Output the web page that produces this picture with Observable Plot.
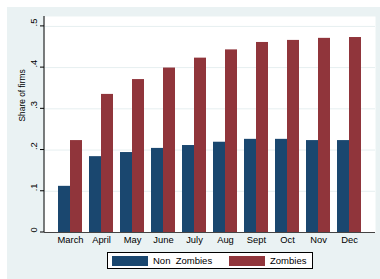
<!DOCTYPE html>
<html>
<head>
<meta charset="utf-8">
<script src="https://cdn.jsdelivr.net/npm/d3@7"></script>
<script src="https://cdn.jsdelivr.net/npm/@observablehq/plot@0.6"></script>
<style>
  html, body { margin: 0; padding: 0; background: #ffffff; }
  #wrap { position: relative; width: 380px; height: 279px; overflow: hidden; font-family: "Liberation Sans", Arial, sans-serif; }
  #bg { position: absolute; left: 7px; top: 7px; width: 373px; height: 272px; background: #eaf2f3; }
  #chart { position: absolute; left: 0; top: 0; }
  #legend { position: absolute; left: 107px; top: 252px; width: 204px; height: 15px; border: 1px solid #000; background: #fff; }
  .sw { position: absolute; top: 3px; width: 36px; height: 10px; }
  .lt { position: absolute; top: 1px; font-size: 9.5px; line-height: 13px; color: #000; white-space: pre; }
</style>
</head>
<body>
<div id="wrap">
  <div id="bg"></div>
  <div id="chart"></div>
  <div id="legend"></div>
</div>
<script>
const months = ["March", "April", "May", "June", "July", "Aug", "Sept", "Oct", "Nov", "Dec"];
const seriesNames = ["Non  Zombies", "Zombies"];
const nonZombies = [0.112, 0.184, 0.194, 0.204, 0.211, 0.219, 0.226, 0.226, 0.223, 0.223];
const zombies = [0.223, 0.335, 0.371, 0.399, 0.423, 0.443, 0.461, 0.466, 0.471, 0.473];
const yTicks = [0, 0.1, 0.2, 0.3, 0.4, 0.5];
const yTitle = "Share of firms";
const colors = ["#1a476f", "#90353b"];

const nzData = months.map((m, i) => ({month: m, value: nonZombies[i]}));
const zData = months.map((m, i) => ({month: m, value: zombies[i]}));
const fmt = d => d === 0 ? "0" : d3.format(".1f")(d).replace(/^0/, "");

const chart = Plot.plot({
  width: 380,
  height: 279,
  marginLeft: 44,
  marginRight: 5,
  marginTop: 16,
  marginBottom: 47,
  style: {background: "transparent", fontFamily: "Liberation Sans, Arial, sans-serif", fontSize: "9.4px", color: "#000"},
  x: {type: "band", domain: months, paddingInner: 0.24, paddingOuter: 0.357, label: null, tickSize: 0, tickPadding: 4},
  y: {domain: [0, 0.524], axis: null},
  marks: [
    Plot.frame({fill: "white", stroke: "none"}),
    Plot.ruleY(yTicks.slice(1), {stroke: "#e6eff0", strokeWidth: 1}),
    Plot.barY(nzData, {x: "month", y: "value", fill: colors[0], insetRight: 12}),
    Plot.barY(zData, {x: "month", y: "value", fill: colors[1], insetLeft: 12}),
    Plot.ruleY([0], {stroke: "#444", strokeWidth: 1}),
    Plot.text(yTicks, {y: d => d, text: fmt, frameAnchor: "left", dx: -11, rotate: -90, fontSize: 9.4, fill: "#000"}),
    Plot.text([yTitle], {text: d => d, frameAnchor: "left", dx: -22, dy: -3, rotate: -90, fontSize: 8.4, fill: "#000"})
  ]
});
document.getElementById("chart").appendChild(chart);

// y axis line and ticks drawn with Plot's y scale
const ys = chart.scale("y");
const svg = d3.select(chart);
svg.append("line").attr("x1", 44).attr("x2", 44).attr("y1", 16).attr("y2", ys.apply(0)).attr("stroke", "#000");
svg.selectAll("line.yt").data(yTicks).join("line").attr("class", "yt")
  .attr("x1", 40).attr("x2", 44).attr("y1", d => ys.apply(d)).attr("y2", d => ys.apply(d)).attr("stroke", "#000");

// legend
const legend = document.getElementById("legend");
const swLeft = [4, 121];
const txLeft = [45, 162];
seriesNames.forEach((name, i) => {
  const sw = document.createElement("div");
  sw.className = "sw"; sw.style.left = swLeft[i] + "px"; sw.style.background = colors[i];
  legend.appendChild(sw);
  const t = document.createElement("div");
  t.className = "lt"; t.style.left = txLeft[i] + "px"; t.textContent = name;
  legend.appendChild(t);
});
</script>
</body>
</html>
